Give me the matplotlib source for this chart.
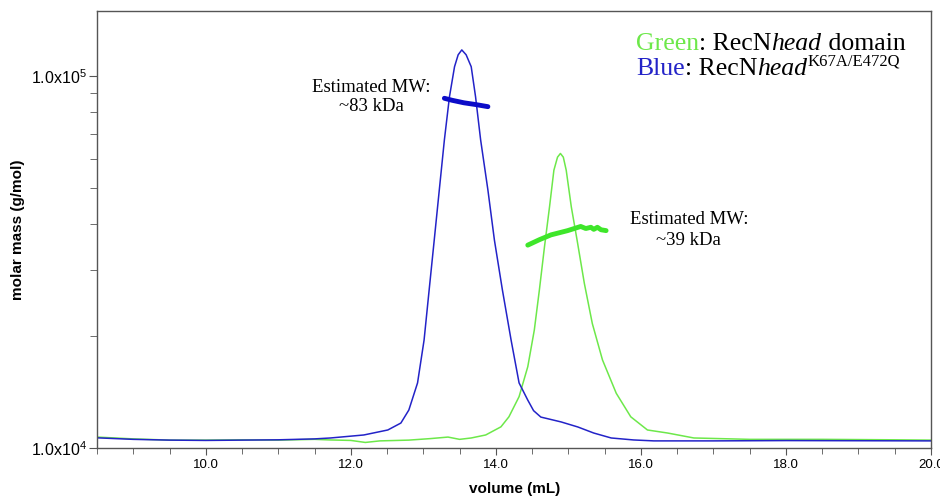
import matplotlib
matplotlib.use("Agg")
import matplotlib.pyplot as plt
from matplotlib.ticker import FixedLocator, FixedFormatter, NullFormatter

plt.rcParams['font.family'] = ['Liberation Sans', 'DejaVu Sans']

# ---- data ----
blue_vol = [8.5, 9.0, 9.5, 10.0, 10.5, 11.0, 11.5, 11.72, 12.18, 12.51, 12.69, 12.80, 12.92,
            13.01, 13.08, 13.15, 13.22, 13.29, 13.36, 13.43, 13.48, 13.53, 13.59, 13.66, 13.72,
            13.79, 13.89, 13.98, 14.09, 14.21, 14.32, 14.44, 14.52, 14.62, 14.90, 15.13, 15.35,
            15.59, 15.90, 16.18, 17.0, 18.0, 19.0, 20.0]
blue_mass = [1.065e4, 1.055e4, 1.05e4, 1.048e4, 1.05e4, 1.052e4, 1.058e4, 1.064e4, 1.084e4,
             1.118e4, 1.167e4, 1.265e4, 1.496e4, 1.95e4, 2.66e4, 3.62e4, 4.94e4, 6.73e4,
             8.79e4, 1.059e5, 1.14e5, 1.175e5, 1.14e5, 1.059e5, 8.79e4, 6.73e4, 4.94e4,
             3.62e4, 2.66e4, 1.95e4, 1.496e4, 1.345e4, 1.26e4, 1.211e4, 1.175e4, 1.139e4,
             1.097e4, 1.064e4, 1.051e4, 1.045e4, 1.045e4, 1.047e4, 1.046e4, 1.045e4]

green_vol = [8.5, 9.0, 9.5, 10.0, 10.5, 11.0, 11.5, 11.72, 12.0, 12.2, 12.4, 12.8, 13.1, 13.34,
             13.5, 13.66, 13.86, 14.07, 14.18, 14.32, 14.44, 14.53, 14.60, 14.67, 14.74, 14.80,
             14.85, 14.89, 14.93, 14.97, 15.04, 15.12, 15.22, 15.33, 15.47, 15.66, 15.86, 16.09,
             16.37, 16.73, 17.5, 18.5, 19.5, 20.0]
green_mass = [1.07e4, 1.058e4, 1.05e4, 1.05e4, 1.052e4, 1.05e4, 1.055e4, 1.051e4, 1.048e4,
              1.035e4, 1.045e4, 1.05e4, 1.06e4, 1.07e4, 1.055e4, 1.064e4, 1.084e4, 1.14e4,
              1.213e4, 1.374e4, 1.654e4, 2.075e4, 2.66e4, 3.47e4, 4.45e4, 5.58e4, 6.05e4,
              6.19e4, 6.05e4, 5.58e4, 4.45e4, 3.62e4, 2.77e4, 2.16e4, 1.725e4, 1.403e4,
              1.213e4, 1.118e4, 1.097e4, 1.064e4, 1.055e4, 1.055e4, 1.052e4, 1.05e4]

blue_mw_vol = [13.29, 13.40, 13.56, 13.72, 13.89]
blue_mw_mass = [8.71e4, 8.6e4, 8.47e4, 8.38e4, 8.27e4]

green_mw_vol = [14.44, 14.60, 14.76, 14.99, 15.17, 15.24, 15.31, 15.35, 15.40, 15.45, 15.52]
green_mw_mass = [3.51e4, 3.63e4, 3.74e4, 3.84e4, 3.94e4, 3.89e4, 3.92e4, 3.87e4, 3.92e4,
                 3.86e4, 3.84e4]

x_ticks = [10.0, 12.0, 14.0, 16.0, 18.0, 20.0]
x_tick_labels = ["10.0", "12.0", "14.0", "16.0", "18.0", "20.0"]
y_ticks = [1e4, 1e5]
y_tick_labels = [r"1.0x10$^{\mathregular{4}}$", r"1.0x10$^{\mathregular{5}}$"]

BLUE = "#2323c8"
GREEN = "#6de84a"
BLUE_MW = "#0c0cc8"
GREEN_MW = "#3ee62a"

fig = plt.figure(figsize=(9.4, 4.99), dpi=100)
ax = fig.add_axes([97/940, 1-448/499, (931-97)/940, (448-11)/499])

ax.plot(green_vol, green_mass, color=GREEN, lw=1.1)
ax.plot(blue_vol, blue_mass, color=BLUE, lw=1.1)
ax.plot(blue_mw_vol, blue_mw_mass, color=BLUE_MW, lw=3.5, solid_capstyle='round')
ax.plot(green_mw_vol, green_mw_mass, color=GREEN_MW, lw=3.5, solid_capstyle='round')

ax.set_yscale('log')
ax.set_xlim(8.5, 20.0)
ax.set_ylim(1e4, 1.495e5)

ax.xaxis.set_major_locator(FixedLocator(x_ticks))
ax.xaxis.set_major_formatter(FixedFormatter(x_tick_labels))
ax.xaxis.set_minor_locator(FixedLocator([8.5 + 0.5 * i for i in range(24)]))
ax.yaxis.set_major_locator(FixedLocator(y_ticks))
ax.yaxis.set_major_formatter(FixedFormatter(y_tick_labels))
ax.yaxis.set_minor_locator(FixedLocator([k * 1e4 for k in range(2, 10)]))
ax.yaxis.set_minor_formatter(NullFormatter())

ax.tick_params(axis='x', which='major', length=5, labelsize=9.5, color='#555555', pad=3)
ax.tick_params(axis='x', which='minor', length=4, color='#555555')
ax.tick_params(axis='y', which='major', length=6, labelsize=11.5, color='#555555', pad=1)
ax.tick_params(axis='y', which='minor', length=5, color='#555555')
for s in ax.spines.values():
    s.set_color('#555555')
    s.set_linewidth(1.0)

fig.text(515/940, 1-489/499, "volume (mL)", fontsize=11, fontweight='bold',
         ha='center', va='center')
fig.text(18/940, 1-230/499, "molar mass (g/mol)", fontsize=11, fontweight='bold',
         ha='center', va='center', rotation=90)

serif = ['Liberation Serif', 'DejaVu Serif']
ax.text(12.28, 8.78e4, "Estimated MW:\n~83 kDa", family=serif, fontsize=13.5,
        ha='center', va='center', linespacing=1.15)
ax.text(16.66, 3.85e4, "Estimated MW:\n~39 kDa", family=serif, fontsize=13.5,
        ha='center', va='center', linespacing=1.3)

FS = 18.5


def chain(prev, s, **kw):
    return ax.annotate(s, xy=(1, 0), xycoords=prev, family=serif, fontsize=kw.pop('fs', FS),
                       va='bottom', ha='left', **kw)


t1 = ax.text(0.6463, 0.911, "Green", transform=ax.transAxes, family=serif,
             fontsize=FS, color=GREEN, va='baseline')
a = chain(t1, ": RecN", color='black')
a = chain(a, "head", color='black', style='italic')
a = chain(a, " domain", color='black')

t2 = ax.text(0.6463, 0.8535, "Blue", transform=ax.transAxes, family=serif,
             fontsize=FS, color=BLUE, va='baseline')
b = chain(t2, ": RecN", color='black')
b = chain(b, "head", color='black', style='italic')
ax.annotate("K67A/E472Q", xy=(1, 0), xycoords=b, xytext=(0.5, 7.5), textcoords='offset points',
            family=serif, fontsize=12, va='bottom', ha='left', color='black')

fig.savefig("out.png", dpi=100)
